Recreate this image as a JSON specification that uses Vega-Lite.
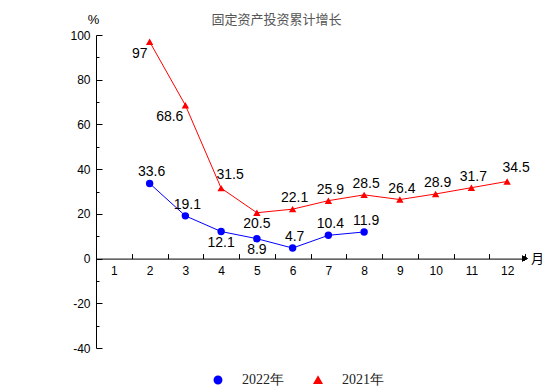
{
  "$schema": "https://vega.github.io/schema/vega-lite/v6.json",
  "width": 429,
  "height": 313,
  "autosize": {"type": "none"},
  "padding": {"left": 96, "top": 35, "right": 29, "bottom": 44},
  "title": {
    "text": "固定资产投资累计增长",
    "anchor": "middle",
    "frame": "group",
    "dx": -34,
    "offset": -14,
    "font": "Noto Sans CJK SC",
    "fontSize": 13,
    "fontWeight": "normal",
    "color": "#555555"
  },
  "config": {
    "view": {"stroke": null}
  },
  "data": {
    "values": [
      {"month": 2, "value": 33.6, "series": "2022年"},
      {"month": 3, "value": 19.1, "series": "2022年"},
      {"month": 4, "value": 12.1, "series": "2022年"},
      {"month": 5, "value": 8.9, "series": "2022年"},
      {"month": 6, "value": 4.7, "series": "2022年"},
      {"month": 7, "value": 10.4, "series": "2022年"},
      {"month": 8, "value": 11.9, "series": "2022年"},
      {"month": 2, "value": 97, "series": "2021年"},
      {"month": 3, "value": 68.6, "series": "2021年"},
      {"month": 4, "value": 31.5, "series": "2021年"},
      {"month": 5, "value": 20.5, "series": "2021年"},
      {"month": 6, "value": 22.1, "series": "2021年"},
      {"month": 7, "value": 25.9, "series": "2021年"},
      {"month": 8, "value": 28.5, "series": "2021年"},
      {"month": 9, "value": 26.4, "series": "2021年"},
      {"month": 10, "value": 28.9, "series": "2021年"},
      {"month": 11, "value": 31.7, "series": "2021年"},
      {"month": 12, "value": 34.5, "series": "2021年"}
    ]
  },
  "encoding": {
    "x": {
      "field": "month",
      "type": "ordinal",
      "bandPosition": 0.5,
      "scale": {"type": "band", "domain": [1, 2, 3, 4, 5, 6, 7, 8, 9, 10, 11, 12], "paddingInner": 0, "paddingOuter": 0},
      "axis": {
        "orient": "bottom",
        "offset": -89.4,
        "tickBand": "extent",
        "tickSize": -5,
        "labelPadding": 12,
        "labelAngle": 0,
        "grid": false,
        "domainColor": "black",
        "tickColor": "black",
        "labelFont": "Liberation Sans",
        "labelFontSize": 12,
        "labelColor": "black",
        "title": "月",
        "titleAngle": 0,
        "titleX": 441,
        "titleY": 0,
        "titleAlign": "center",
        "titleBaseline": "middle",
        "titleFont": "Noto Sans CJK SC",
        "titleFontSize": 13,
        "titleFontWeight": "normal",
        "titleColor": "black"
      }
    },
    "y": {
      "field": "value",
      "type": "quantitative",
      "scale": {"domain": [-40, 100], "nice": false, "zero": false},
      "axis": {
        "orient": "left",
        "values": [-40, -30, -20, -10, 0, 10, 20, 30, 40, 50, 60, 70, 80, 90, 100],
        "tickSize": {"condition": {"test": "datum.value % 20 === 0", "value": -6}, "value": -3},
        "labelExpr": "datum.value % 20 === 0 ? '' + datum.value : ''",
        "labelPadding": 12,
        "grid": false,
        "domainColor": "black",
        "tickColor": "black",
        "labelFont": "Liberation Sans",
        "labelFontSize": 12,
        "labelColor": "black",
        "title": "%",
        "titleAngle": 0,
        "titleX": -3,
        "titleY": -16,
        "titleAlign": "center",
        "titleBaseline": "middle",
        "titleFont": "Liberation Sans",
        "titleFontSize": 13,
        "titleFontWeight": "normal",
        "titleColor": "black"
      }
    }
  },
  "layer": [
    {
      "mark": {"type": "line", "strokeWidth": 1},
      "encoding": {
        "color": {
          "field": "series",
          "type": "nominal",
          "scale": {"domain": ["2022年", "2021年"], "range": ["#0000ff", "#ff0000"]}
        }
      }
    },
    {
      "mark": {"type": "point", "filled": true, "size": 55, "opacity": 1},
      "encoding": {
        "color": {
          "field": "series",
          "type": "nominal",
          "legend": {
            "orient": "none",
            "legendX": 115,
            "legendY": 338,
            "direction": "horizontal",
            "title": null,
            "symbolSize": 55,
            "labelFont": "Liberation Serif",
            "labelFontSize": 14,
            "labelColor": "#222222",
            "labelOffset": 17,
            "columnPadding": 27
          }
        },
        "shape": {
          "field": "series",
          "type": "nominal",
          "scale": {"domain": ["2022年", "2021年"], "range": ["circle", "triangle-up"]}
        }
      }
    },
    {
      "transform": [{"filter": "!((datum.series === '2021年' && (datum.month === 2 || datum.month === 3 || datum.month === 4 || datum.month === 5 || datum.month === 12)) || (datum.series === '2022年' && (datum.month === 4 || datum.month === 5)))"}],
      "mark": {"type": "text", "font": "Liberation Sans", "fontSize": 14, "color": "black", "baseline": "middle", "align": "center", "dx": 2, "dy": -11},
      "encoding": {"text": {"field": "value", "type": "nominal"}}
    },
    {
      "transform": [{"filter": "datum.series === '2021年' && (datum.month === 4 || datum.month === 12)"}],
      "mark": {"type": "text", "font": "Liberation Sans", "fontSize": 14, "color": "black", "baseline": "middle", "align": "center", "dx": 9, "dy": -13},
      "encoding": {"text": {"field": "value", "type": "nominal"}}
    },
    {
      "transform": [{"filter": "(datum.series === '2021年' && datum.month === 5) || (datum.series === '2022年' && (datum.month === 4 || datum.month === 5))"}],
      "mark": {"type": "text", "font": "Liberation Sans", "fontSize": 14, "color": "black", "baseline": "middle", "align": "center", "dx": 0, "dy": 11},
      "encoding": {"text": {"field": "value", "type": "nominal"}}
    },
    {
      "transform": [{"filter": "datum.series === '2021年' && (datum.month === 2 || datum.month === 3)"}],
      "mark": {"type": "text", "font": "Liberation Sans", "fontSize": 14, "color": "black", "baseline": "middle", "align": "right", "dx": -2, "dy": 12},
      "encoding": {"text": {"field": "value", "type": "nominal"}}
    },
    {
      "mark": {"type": "point", "shape": "triangle-right", "filled": true, "color": "black", "size": 30, "opacity": 1},
      "encoding": {
        "x": {"datum": 12, "type": "ordinal", "bandPosition": 1},
        "y": {"datum": 0, "type": "quantitative"}
      }
    }
  ]
}
